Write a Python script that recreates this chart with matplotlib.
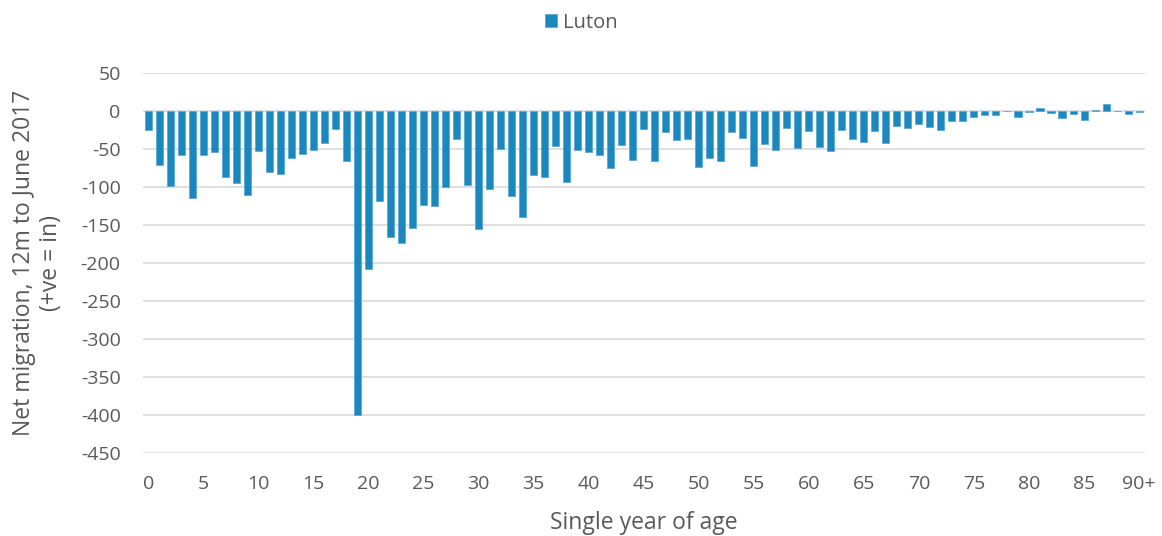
import numpy as np
import matplotlib
matplotlib.use("Agg")
import matplotlib.pyplot as plt

plt.rcParams['font.family'] = ['Open Sans', 'DejaVu Sans']
plt.rcParams['axes.unicode_minus'] = False

# Net migration by single year of age (0 .. 90+)
ages = list(range(0, 91))
net_migration = [
    -25, -71, -98, -57, -114, -57, -54, -87, -94, -110,    # 0-9
    -52, -80, -82, -62, -56, -51, -42, -23, -66, -400,     # 10-19
    -208, -118, -166, -174, -153, -124, -125, -99, -36, -97,  # 20-29
    -155, -102, -49, -112, -139, -84, -87, -46, -93, -51,  # 30-39
    -53, -57, -75, -44, -64, -23, -66, -27, -38, -36,      # 40-49
    -73, -61, -65, -27, -35, -72, -43, -51, -22, -48,      # 50-59
    -26, -47, -52, -25, -37, -40, -26, -42, -19, -22,      # 60-69
    -17, -21, -24, -13, -13, -8, -5, -5, 1, -8,            # 70-79
    -1, 4, -2, -9, -3, -12, 2, 10, 0, -3,                  # 80-89
    -1,                                                    # 90+
]
tick_pos = list(range(0, 91, 5))
tick_labels = [str(a) for a in range(0, 90, 5)] + ['90+']

bar_color = '#1b87bf'
text_color = '#595959'

fig = plt.figure(figsize=(11.62, 5.36), dpi=100)
ax = fig.add_axes([0.123, 0.155, 0.862, 0.708])

ax.bar(ages, net_migration, width=0.64, color=bar_color,
       edgecolor='#5aa9d6', linewidth=0.6, label='Luton', zorder=3)

ax.set_xlim(-0.5, 90.5)
ax.set_ylim(-450, 50)
ax.set_yticks(np.arange(-450, 51, 50))
ax.set_xticks(tick_pos)
ax.set_xticklabels(tick_labels)

ax.grid(axis='y', color='#d9d9d9', linewidth=1.2, zorder=0)
ax.grid(axis='x', visible=False)
for s in ax.spines.values():
    s.set_visible(False)
ax.tick_params(axis='both', length=0, labelsize=14, labelcolor=text_color)
ax.tick_params(axis='y', pad=16)
ax.tick_params(axis='x', pad=16)

ax.set_xlabel('Single year of age', fontsize=16.5, color=text_color, labelpad=13)
ax.set_ylabel('Net migration, 12m to June 2017\n(+ve = in)', fontsize=16.5,
              color=text_color, labelpad=13, linespacing=1.15)

leg = fig.legend(loc='upper center', bbox_to_anchor=(0.5, 1.01), frameon=False,
                 fontsize=14.5, handlelength=0.6, handleheight=0.6,
                 handletextpad=0.3)
for t in leg.get_texts():
    t.set_color(text_color)

fig.savefig('out.png', dpi=100)
